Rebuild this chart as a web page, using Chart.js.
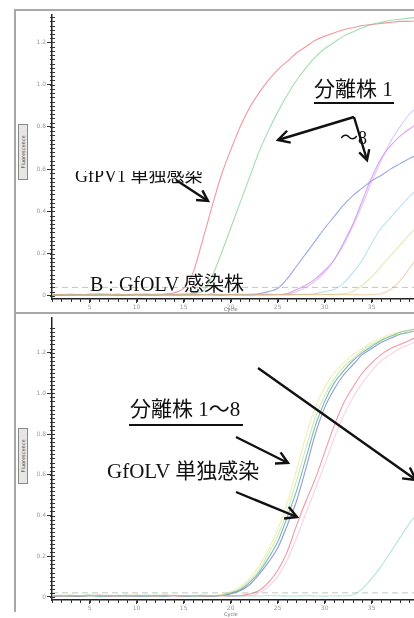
<!DOCTYPE html>
<html>
<head>
<meta charset="utf-8">
<script src="https://cdn.jsdelivr.net/npm/chart.js@4.4.1/dist/chart.umd.min.js"></script>
<style>
  html, body { margin:0; padding:0; background:#fff; }
  #wrap { position:relative; width:414px; height:618px; overflow:hidden; background:#fff; }
  canvas { position:absolute; left:0; }
  .t { position:absolute; white-space:nowrap; color:#111; font-family:"Liberation Serif","Noto Sans CJK JP",serif; line-height:1; }
  .ul { position:absolute; height:2px; background:#111; }
  .hl { position:absolute; background:#a8a8a8; }
  .ytitle { position:absolute; width:54px; height:8px; border:1px solid #888; background:#e6e6e6; font:5px "DejaVu Sans",sans-serif; color:#444; text-align:center; line-height:8px; transform-origin:0 0; transform:rotate(-90deg); }
  .xtitle { position:absolute; font:5px "DejaVu Sans",sans-serif; color:#666; }
  svg { position:absolute; left:0; top:0; }
</style>
</head>
<body>
<div id="wrap">
  <canvas id="top" width="414" height="312" style="top:0"></canvas>
  <canvas id="bot" width="414" height="305" style="top:313px"></canvas>

  <div class="hl" style="left:14px;top:9px;width:400px;height:2px"></div>
  <div class="hl" style="left:14px;top:9px;width:2px;height:603px"></div>
  <div class="hl" style="left:14px;top:312px;width:400px;height:2px"></div>

  <div class="ytitle" style="left:18px;top:180px">Fluorescence</div>
  <div class="ytitle" style="left:18px;top:484px">Fluorescence</div>
  <div class="xtitle" style="left:224px;top:306px">Cycle</div>
  <div class="xtitle" style="left:224px;top:611px">Cycle</div>

  <div class="t" style="left:314px;top:79px;font-size:21px">分離株 1</div>
  <div class="ul" style="left:314px;top:102px;width:80px"></div>
  <div class="t" style="left:340px;top:129px;font-size:18px">～8</div>
  <div style="position:absolute;left:70px;top:171px;width:150px;height:16px;overflow:hidden">
    <div class="t" style="left:5px;top:-4px;font-size:18px">GfPV1 単独感染</div>
  </div>
  <div class="t" style="left:90px;top:274px;font-size:20px">B : GfOLV 感染株</div>

  <div class="t" style="left:130px;top:399px;font-size:21px">分離株 1～8</div>
  <div class="ul" style="left:129px;top:424px;width:114px"></div>
  <div class="t" style="left:107px;top:461px;font-size:21px">GfOLV 単独感染</div>

  <svg id="arrows" width="414" height="618"></svg>
</div>
<script>
// ---- data ----
const CYCLES = [1,2,3,4,5,6,7,8,9,10,11,12,13,14,15,16,17,18,19,20,21,22,23,24,25,26,27,28,29,30,31,32,33,34,35,36,37,38,39,40];
const X_TICKS = [5,10,15,20,25,30,35];
const Y_TICKS = [0,0.2,0.4,0.6,0.8,1.0,1.2];

// Panel A (top)
const TOP_RED = [0.004,0.007,0.003,0.006,0.004,0.008,0.005,0.003,0.006,0.005,0.004,0.007,0.009,0.015,0.035,0.11,0.26,0.42,0.57,0.69,0.80,0.89,0.96,1.02,1.07,1.11,1.15,1.18,1.21,1.23,1.245,1.26,1.27,1.28,1.285,1.29,1.295,1.30,1.30,1.305];
const TOP_GREEN = [0.006,0.004,0.007,0.005,0.003,0.006,0.008,0.004,0.005,0.007,0.004,0.006,0.005,0.007,0.008,0.011,0.02,0.09,0.20,0.32,0.44,0.56,0.68,0.78,0.87,0.95,1.02,1.08,1.13,1.17,1.20,1.23,1.25,1.27,1.285,1.295,1.305,1.31,1.315,1.32];
const TOP_BLUE = [0.005,0.003,0.006,0.004,0.007,0.005,0.004,0.006,0.003,0.005,0.007,0.004,0.006,0.005,0.004,0.006,0.005,0.007,0.004,0.006,0.005,0.007,0.01,0.02,0.035,0.08,0.14,0.20,0.26,0.32,0.375,0.43,0.475,0.51,0.545,0.57,0.60,0.625,0.65,0.67];
const TOP_MAGENTA = [0.003,0.005,0.004,0.006,0.005,0.003,0.006,0.004,0.005,0.007,0.005,0.004,0.006,0.003,0.005,0.004,0.006,0.005,0.004,0.006,0.005,0.004,0.006,0.005,0.006,0.01,0.03,0.05,0.08,0.12,0.17,0.25,0.34,0.45,0.56,0.65,0.71,0.755,0.79,0.82];
const TOP_LAVENDER = [0.006,0.004,0.005,0.003,0.006,0.005,0.004,0.007,0.005,0.004,0.006,0.005,0.003,0.006,0.004,0.005,0.007,0.004,0.006,0.005,0.004,0.006,0.005,0.004,0.006,0.008,0.02,0.04,0.07,0.11,0.17,0.24,0.33,0.43,0.54,0.64,0.73,0.80,0.86,0.90];
const TOP_CYAN = [0.004,0.006,0.005,0.007,0.004,0.005,0.006,0.004,0.007,0.005,0.003,0.006,0.004,0.005,0.006,0.004,0.005,0.007,0.005,0.004,0.006,0.005,0.004,0.006,0.005,0.004,0.006,0.007,0.01,0.02,0.03,0.06,0.11,0.17,0.25,0.32,0.37,0.42,0.47,0.51];
const TOP_YELLOW = [0.007,0.005,0.006,0.004,0.008,0.006,0.005,0.007,0.004,0.006,0.008,0.005,0.006,0.004,0.007,0.005,0.006,0.004,0.007,0.005,0.006,0.004,0.005,0.007,0.006,0.004,0.005,0.006,0.004,0.006,0.007,0.01,0.02,0.05,0.09,0.14,0.19,0.24,0.29,0.33];
const TOP_ORANGE = [0.008,0.006,0.009,0.005,0.007,0.010,0.006,0.008,0.005,0.007,0.009,0.006,0.005,0.008,0.006,0.007,0.005,0.008,0.006,0.007,0.009,0.005,0.006,0.008,0.005,0.007,0.006,0.005,0.007,0.006,0.005,0.007,0.006,0.005,0.006,0.01,0.03,0.07,0.13,0.19];
const TOP_THRESHOLD = 0.04;

// Panel B (bottom)
const BOT_YELLOW = [0.008,0.006,0.009,0.005,0.007,0.006,0.008,0.005,0.007,0.009,0.006,0.005,0.008,0.006,0.007,0.005,0.006,0.007,0.01,0.025,0.05,0.09,0.15,0.23,0.33,0.46,0.62,0.79,0.93,1.03,1.10,1.15,1.19,1.22,1.25,1.27,1.29,1.30,1.31,1.32];
const BOT_LTGREEN = [0.006,0.008,0.005,0.007,0.009,0.006,0.005,0.008,0.006,0.007,0.005,0.009,0.006,0.008,0.005,0.007,0.006,0.005,0.008,0.02,0.04,0.08,0.13,0.21,0.30,0.42,0.57,0.73,0.88,0.99,1.07,1.13,1.17,1.21,1.24,1.26,1.28,1.29,1.30,1.31];
const BOT_GREEN = [0.005,0.007,0.004,0.006,0.008,0.005,0.007,0.004,0.006,0.005,0.008,0.006,0.004,0.007,0.005,0.006,0.008,0.005,0.007,0.02,0.035,0.07,0.12,0.19,0.27,0.39,0.52,0.68,0.84,0.96,1.05,1.11,1.16,1.20,1.23,1.26,1.28,1.30,1.31,1.32];
const BOT_BLUE = [0.004,0.006,0.005,0.003,0.007,0.005,0.004,0.006,0.008,0.005,0.004,0.006,0.005,0.007,0.004,0.006,0.005,0.004,0.007,0.015,0.03,0.06,0.11,0.17,0.24,0.35,0.47,0.63,0.80,0.93,1.02,1.09,1.14,1.19,1.22,1.25,1.27,1.29,1.30,1.31];
const BOT_RED = [0.006,0.004,0.008,0.005,0.006,0.009,0.005,0.007,0.004,0.008,0.006,0.005,0.009,0.006,0.005,0.007,0.004,0.006,0.008,0.005,0.007,0.015,0.03,0.07,0.13,0.22,0.35,0.47,0.58,0.71,0.84,0.95,1.03,1.10,1.15,1.19,1.22,1.24,1.26,1.28];
const BOT_PINK = [0.005,0.007,0.004,0.006,0.005,0.007,0.006,0.004,0.005,0.006,0.007,0.004,0.005,0.006,0.004,0.007,0.005,0.006,0.004,0.005,0.007,0.006,0.02,0.05,0.10,0.18,0.29,0.41,0.53,0.65,0.78,0.89,0.98,1.05,1.11,1.16,1.19,1.22,1.24,1.26];
const BOT_TEAL = [0.006,0.005,0.007,0.004,0.006,0.005,0.008,0.006,0.005,0.007,0.004,0.006,0.005,0.007,0.006,0.004,0.005,0.006,0.007,0.005,0.004,0.006,0.005,0.007,0.006,0.004,0.005,0.006,0.005,0.004,0.006,0.005,0.01,0.04,0.09,0.15,0.22,0.29,0.36,0.42];
const BOT_THRESHOLD = 0.02;

// ---- helpers ----
const pts = arr => CYCLES.map((c, i) => ({ x: c, y: arr[i] }));
const line = (arr, color, w) => ({ data: pts(arr), borderColor: color, borderWidth: w || 1.1, pointRadius: 0, cubicInterpolationMode: 'monotone', fill: false });
const thresh = (v, color) => ({ data: [{x: CYCLES[0], y: v}, {x: CYCLES[CYCLES.length-1], y: v}], borderColor: color, borderWidth: 1, borderDash: [6, 4], pointRadius: 0, fill: false });

const minorTicks = {
  id: 'minorTicks',
  afterDraw(chart) {
    const { ctx } = chart; const xs = chart.scales.x, ys = chart.scales.y;
    ctx.save(); ctx.strokeStyle = '#333'; ctx.lineWidth = 1; ctx.beginPath();
    for (let k = 0; k <= 66; k++) {
      const v = k * 0.02; if (v > ys.max) break;
      const py = Math.round(ys.getPixelForValue(v)) + 0.5;
      ctx.moveTo(xs.left - 2, py); ctx.lineTo(xs.left + 3, py);
    }
    for (const c of CYCLES) {
      if (c > xs.max) break;
      const px = Math.round(xs.getPixelForValue(c)) + 0.5;
      ctx.moveTo(px, ys.bottom - 1); ctx.lineTo(px, ys.bottom + 3);
    }
    ctx.stroke(); ctx.restore();
  }
};

function makeChart(id, datasets, ymax, padTop, xh) {
  return new Chart(document.getElementById(id), {
    type: 'line',
    data: { datasets },
    options: {
      responsive: false, animation: false, devicePixelRatio: 1,
      layout: { padding: { top: padTop, right: 0, left: 0, bottom: 0 } },
      plugins: { legend: { display: false }, tooltip: { enabled: false } },
      scales: {
        x: {
          type: 'linear', min: 1, max: 39.5,
          afterBuildTicks: s => { s.ticks = X_TICKS.map(v => ({ value: v })); },
          afterFit: s => { s.height = xh; },
          border: { color: '#222', width: 1.5 },
          grid: { drawOnChartArea: false, drawTicks: true, tickLength: 4, color: '#333' },
          ticks: { font: { size: 6, family: 'DejaVu Sans' }, color: '#999', padding: 1, maxRotation: 0 }
        },
        y: {
          min: -0.015, max: ymax,
          afterBuildTicks: s => { s.ticks = Y_TICKS.map(v => ({ value: v })); },
          afterFit: s => { s.width = 52; },
          border: { color: '#222', width: 1.5 },
          grid: { drawOnChartArea: false, drawTicks: true, tickLength: 5, color: '#333' },
          ticks: { font: { size: 6, family: 'DejaVu Sans' }, color: '#999', padding: 1,
                   callback: v => (v === 0 ? '0' : Number(v).toFixed(1)) }
        }
      }
    },
    plugins: [minorTicks]
  });
}

makeChart('top', [
  thresh(TOP_THRESHOLD, 'rgba(120,150,120,0.5)'),
  line(TOP_ORANGE, 'rgba(235,170,110,0.5)'),
  line(TOP_YELLOW, 'rgba(205,210,100,0.5)'),
  line(TOP_CYAN, 'rgba(120,200,230,0.5)'),
  line(TOP_LAVENDER, 'rgba(190,160,235,0.55)'),
  line(TOP_MAGENTA, 'rgba(205,95,225,0.6)'),
  line(TOP_BLUE, 'rgba(90,110,215,0.6)'),
  line(TOP_GREEN, 'rgba(110,205,130,0.65)'),
  line(TOP_RED, 'rgba(235,95,105,0.65)')
], 1.33, 15, 13);

makeChart('bot', [
  thresh(BOT_THRESHOLD, 'rgba(120,150,120,0.5)'),
  line(BOT_TEAL, 'rgba(110,200,190,0.5)'),
  line(BOT_PINK, 'rgba(240,170,200,0.5)'),
  line(BOT_YELLOW, 'rgba(225,225,110,0.55)'),
  line(BOT_LTGREEN, 'rgba(150,220,150,0.55)'),
  line(BOT_RED, 'rgba(235,95,120,0.65)'),
  line(BOT_BLUE, 'rgba(80,100,210,0.65)'),
  line(BOT_GREEN, 'rgba(60,150,110,0.65)')
], 1.37, 5, 18);

// ---- annotation arrows ----
(function () {
  const svg = document.getElementById('arrows');
  const NS = 'http://www.w3.org/2000/svg';
  function seg(pts) {
    const p = document.createElementNS(NS, 'polyline');
    p.setAttribute('points', pts.map(q => q.join(',')).join(' '));
    p.setAttribute('fill', 'none'); p.setAttribute('stroke', '#111');
    p.setAttribute('stroke-width', '2.4'); p.setAttribute('stroke-linejoin', 'miter');
    svg.appendChild(p);
  }
  function arrow(x0, y0, x1, y1, L) {
    seg([[x0, y0], [x1, y1]]);
    const a = Math.atan2(y1 - y0, x1 - x0), s = 0.5;
    seg([[x1 - L * Math.cos(a - s), y1 - L * Math.sin(a - s)], [x1, y1], [x1 - L * Math.cos(a + s), y1 - L * Math.sin(a + s)]]);
  }
  arrow(354, 117, 278, 140, 13);
  arrow(354, 117, 367, 160, 11);
  arrow(176, 180, 208, 201, 12);
  arrow(236, 437, 288, 463, 13);
  arrow(236, 492, 297, 517, 13);
  arrow(258, 368, 416, 480, 14);
})();
</script>
</body>
</html>
